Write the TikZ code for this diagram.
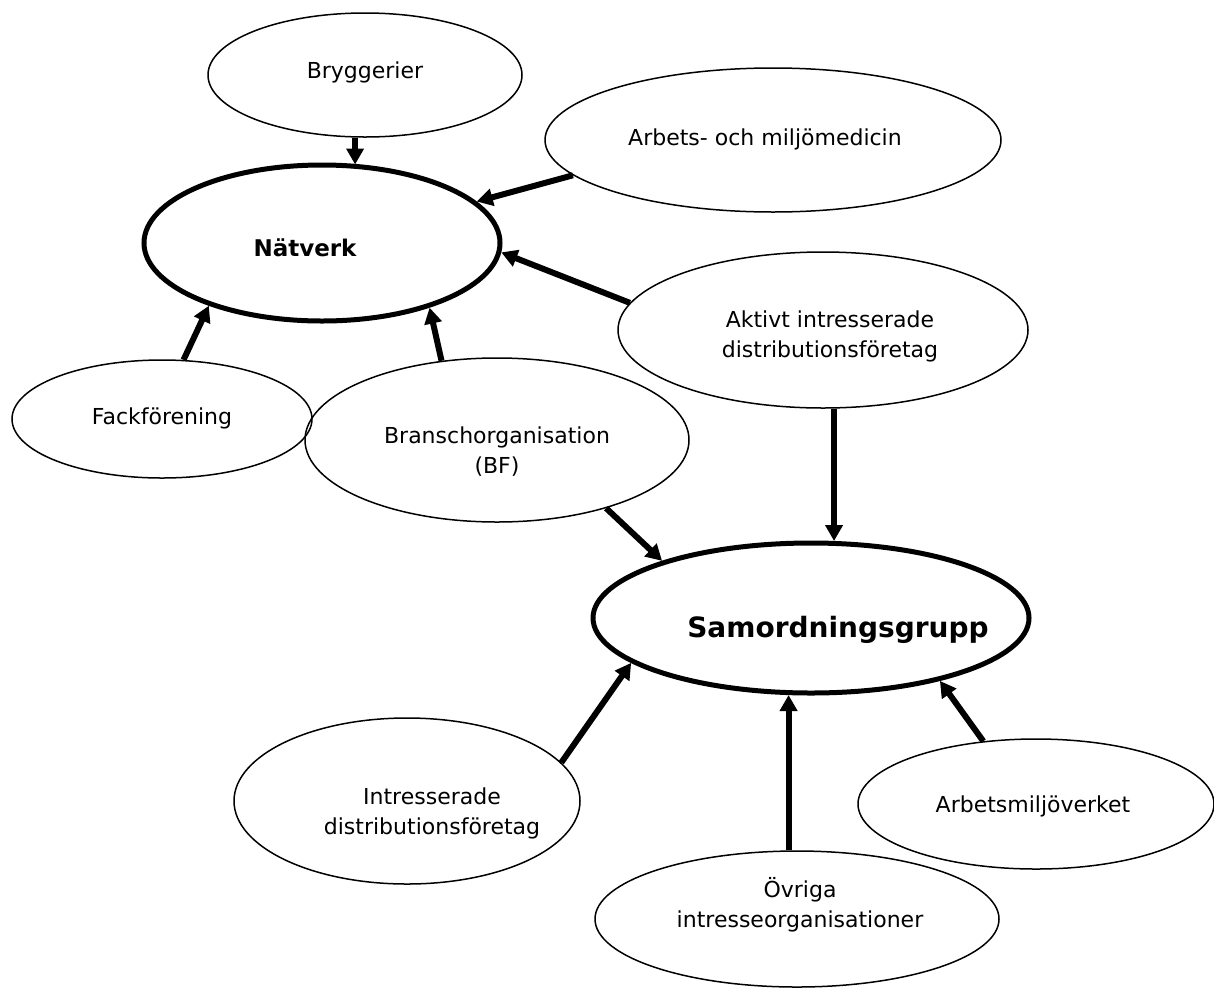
\documentclass[tikz,border=0pt]{standalone}
\usepackage{fontspec}
\setmainfont{DejaVu Sans}
\usetikzlibrary{shapes.geometric,arrows.meta}

\tikzset{
  bubble/.style={ellipse, draw, line width=1.5pt, inner sep=0pt},
  hub/.style={ellipse, draw, line width=5pt, inner sep=0pt},
  lbl/.style={align=center, inner sep=0pt, font=\fontsize{22}{30}\selectfont},
  hublbl/.style={inner sep=0pt, font=\bfseries\fontsize{#1}{#1}\selectfont},
  arr/.style={line width=6pt, -{Triangle[length=16pt,width=17pt]}},
}

\begin{document}
\begin{tikzpicture}[x=1pt,y=-1pt]
\useasboundingbox (0,0) rectangle (1214,994);

% outer bubbles
\node[bubble, minimum width=314pt, minimum height=124pt] (brygg) at (365,75) {};
\node[lbl] (brygg-t) at (365,72) {Bryggerier};

\node[bubble, minimum width=456pt, minimum height=144pt] (amm) at (773,140) {};
\node[lbl] (amm-t) at (765,139) {Arbets- och miljömedicin};

\node[bubble, minimum width=410pt, minimum height=156pt] (aktivt) at (823,330) {};
\node[lbl] (aktivt-t) at (830,336) {Aktivt intresserade\\distributionsföretag};

\node[bubble, minimum width=300pt, minimum height=118pt] (fack) at (162,419) {};
\node[lbl] (fack-t) at (162,418) {Fackförening};

\node[bubble, minimum width=384pt, minimum height=164pt] (bransch) at (497,440) {};
\node[lbl] (bransch-t) at (497,452) {Branschorganisation\\(BF)};

\node[bubble, minimum width=346pt, minimum height=166pt] (intres) at (407,801) {};
\node[lbl] (intres-t) at (432,813) {Intresserade\\distributionsföretag};

\node[bubble, minimum width=356pt, minimum height=130pt] (asv) at (1036,804) {};
\node[lbl] (asv-t) at (1033,806) {Arbetsmiljöverket};

\node[bubble, minimum width=404pt, minimum height=136pt] (ovriga) at (797,919) {};
\node[lbl] (ovriga-t) at (800,905) {Övriga\\intresseorganisationer};

% central bubbles
\node[hub, minimum width=356pt, minimum height=156pt] (natverk) at (322,243) {};
\node[hublbl=23] (natverk-t) at (305,248) {Nätverk};

\node[hub, minimum width=436pt, minimum height=150pt] (samord) at (811,618) {};
\node[hublbl=28] (samord-t) at (838,630) {Samordningsgrupp};

% links into Nätverk
\draw[arr] (brygg.261) -- (brygg.261 |- natverk.63);
\draw[arr] (amm.190.6) -- (natverk.15);
\draw[arr] (aktivt.172.2) -- (natverk.-3.2);
\draw[arr] (fack.70.8) -- (natverk.209);
\draw[arr] (bransch.125.9) -- (natverk.-31);

% links into Samordningsgrupp
\draw[arr] (bransch.-32.8) -- (samord.159.4);
\draw[arr] (aktivt.278.7) -- (aktivt.278.7 |- samord.72.3);
\draw[arr] (intres.14.9) -- (samord.194.7);
\draw[arr] (ovriga.97) -- (ovriga.97 |- samord.252.3);
\draw[arr] (asv.130) -- (samord.-26.6);
\end{tikzpicture}
\end{document}
